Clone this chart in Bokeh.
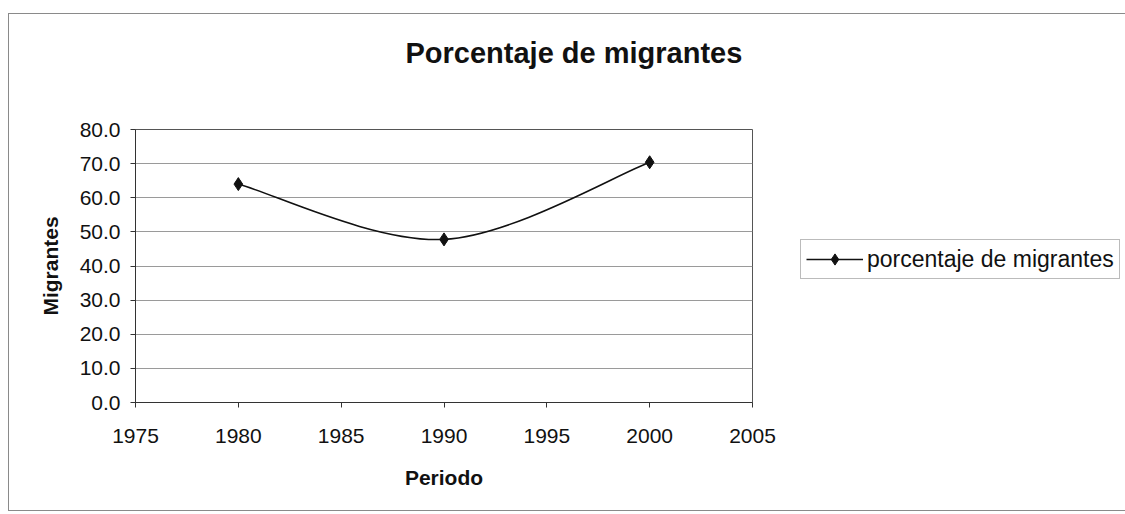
from bokeh.plotting import figure
from bokeh.models import (Range1d, Legend, LegendItem, SingleIntervalTicker,
                          NumeralTickFormatter, ColumnDataSource, Title)
from bokeh.embed import file_html
from bokeh.resources import INLINE

# data
years = [1980, 1990, 2000]
values = [64.0, 47.8, 70.4]
series_name = "porcentaje de migrantes"
title_text = "Porcentaje de migrantes"
x_label = "Periodo"
y_label = "Migrantes"

FONT = "Liberation Sans"

p = figure(frame_width=617, frame_height=273, output_backend="svg", toolbar_location=None,
           x_range=Range1d(1975, 2005), y_range=Range1d(0, 80),
           min_border_left=126, min_border_right=371, min_border_top=115,
           min_border_bottom=108)
p.margin = (13, 0, 0, 8)
p.styles = {"border": "1px solid #8a8a8a"}
p.background_fill_color = "white"
p.border_fill_color = "white"
p.outline_line_color = "#555555"
p.outline_line_width = 1

# title (outermost) and a blank spacer between title and plot area
p.title.text = title_text
p.title.text_font = FONT
p.title.text_font_style = "bold"
p.title.text_font_size = "29px"
p.title.text_color = "#111111"
p.title.align = "left"
p.title.offset = 270
p.title.standoff = 0
spacer = Title(text=" ", text_font_size="10px", standoff=48)
p.add_layout(spacer, "above")

# axes
p.xaxis.ticker = SingleIntervalTicker(interval=5)
p.yaxis.ticker = SingleIntervalTicker(interval=10)
p.yaxis.formatter = NumeralTickFormatter(format="0.0")
for ax in (p.xaxis[0], p.yaxis[0]):
    ax.major_label_text_font = FONT
    ax.major_label_text_font_size = "21px"
    ax.major_label_text_color = "#111111"
    ax.axis_line_color = "#333333"
    ax.major_tick_line_color = "#333333"
    ax.major_tick_out = 5
    ax.major_tick_in = 0
    ax.minor_tick_line_color = None
    ax.axis_label_text_font = FONT
    ax.axis_label_text_font_style = "bold"
    ax.axis_label_text_font_size = "21px"
    ax.axis_label_text_color = "#111111"
p.xaxis.major_label_standoff = 21
p.yaxis.major_label_standoff = 10
p.xaxis.axis_label = x_label
p.yaxis.axis_label = y_label
p.xaxis.axis_label_standoff = 20
p.yaxis.axis_label_standoff = 15

p.xgrid.grid_line_color = None
p.ygrid.grid_line_color = "#9a9a9a"
p.ygrid.grid_line_width = 1

# smoothed line (Excel-style Bezier smoothing through data points)
n = len(years)
px = [years[0]] + years + [years[-1]]
py = [values[0]] + values + [values[-1]]
x0, y0, x1, y1, cx0, cy0, cx1, cy1 = [], [], [], [], [], [], [], []
for i in range(n - 1):
    a, b, c, d = i, i + 1, i + 2, i + 3
    x0.append(px[b]); y0.append(py[b])
    x1.append(px[c]); y1.append(py[c])
    cx0.append(px[b] + (px[c] - px[a]) / 6); cy0.append(py[b] + (py[c] - py[a]) / 6)
    cx1.append(px[c] - (px[d] - px[b]) / 6); cy1.append(py[c] - (py[d] - py[b]) / 6)
bsrc = ColumnDataSource(dict(x0=x0, y0=y0, x1=x1, y1=y1, cx0=cx0, cy0=cy0, cx1=cx1, cy1=cy1))
bez = p.bezier(x0="x0", y0="y0", x1="x1", y1="y1", cx0="cx0", cy0="cy0", cx1="cx1", cy1="cy1",
               source=bsrc, line_color="#111111", line_width=1.6)
sc = p.scatter(years, values, marker="diamond", size=13, fill_color="#111111",
               line_color="#111111")

legend = Legend(items=[LegendItem(label=series_name, renderers=[bez, sc])],
                location=(48, 123), orientation="vertical")
legend.label_text_font = FONT
legend.label_text_font_size = "23px"
legend.label_text_color = "#111111"
legend.border_line_color = "#777777"
legend.border_line_width = 1
legend.background_fill_alpha = 1
legend.glyph_width = 57
legend.glyph_height = 28
legend.label_height = 28
legend.padding = 5
legend.margin = 0
legend.spacing = 0
legend.label_standoff = 4
p.add_layout(legend, "right")

open("out.html", "w").write(file_html(p, INLINE))
